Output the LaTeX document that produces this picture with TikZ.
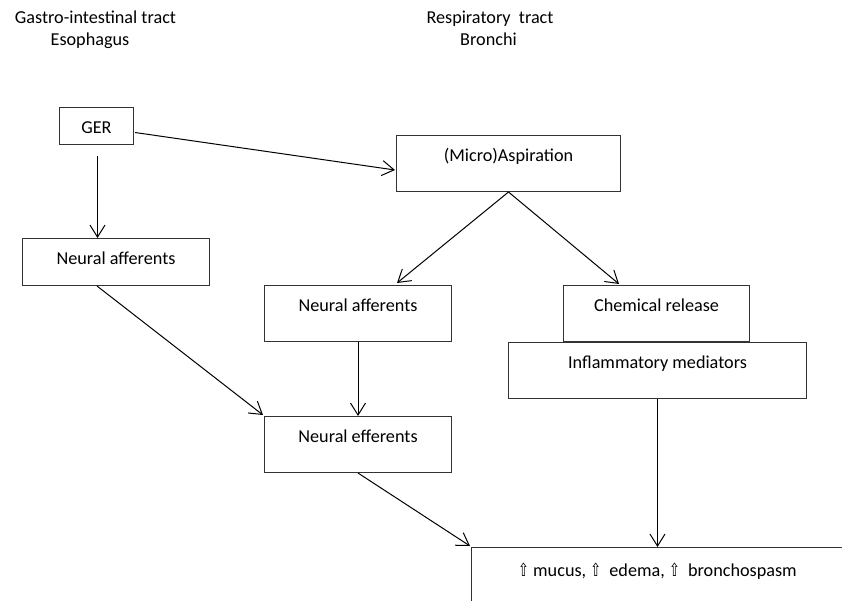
\documentclass[tikz,border=0pt]{standalone}
\usepackage{fontspec}
\setmainfont{Carlito}
\newfontfamily\arrowfont{DejaVu Sans}
\usetikzlibrary{arrows.meta,calc}
% narrow hollow up-arrow used in the outcome box
\newcommand{\upmark}{\scalebox{0.72}[1]{\arrowfont\fontsize{18}{20}\selectfont ⇧}}
\begin{document}
\begin{tikzpicture}[x=1pt,y=-1pt,
  every node/.style={font=\fontsize{18.2}{22}\selectfont},
  heading/.style={anchor=base, inner sep=0pt},
  flowbox/.style={draw=black!80, line width=1pt, anchor=north west,
    inner sep=0pt, text height=26pt},
  arr/.style={line width=1pt, line join=round,
    -{Straight Barb[length=12pt,width=15pt]}}]
\useasboundingbox (0,0) rectangle (842,600);
\clip (0,0) rectangle (842,600);

% column headings
\node[heading] (giHead)   at (95.5,23.3) {Gastro-intestinal tract};
\node[heading] (esoHead)  at (90,45.7)   {Esophagus};
\node[heading] (respHead) at (490,23.3)  {Respiratory\ \ tract};
\node[heading] (bronHead) at (488.5,45.7){Bronchi};

% boxes
\node[flowbox, minimum width=74pt,  text depth=11pt] (ger)  at (59,107)  {GER};
\node[flowbox, minimum width=224pt, text depth=30pt] (asp)  at (396,135) {(Micro)Aspiration};
\node[flowbox, minimum width=187pt, text depth=21pt] (naL)  at (22,238)  {Neural afferents};
\node[flowbox, minimum width=187pt, text depth=30pt] (naM)  at (264,285) {Neural afferents};
\node[flowbox, minimum width=186pt, text depth=30pt] (chem) at (563,285) {Chemical release};
\node[flowbox, minimum width=298pt, text depth=30pt] (infl) at (508,342) {Inflammatory mediators};
\node[flowbox, minimum width=187pt, text depth=30pt] (ne)   at (264,416) {Neural efferents};
\node[flowbox, minimum width=372pt, text height=29pt, text depth=80pt] (out) at (471,547)
  {\upmark\ mucus, \upmark\ \ edema, \upmark\ \ bronchospasm};

% connectors
\coordinate (gerDrop) at ($(ger.south)+(1,11)$);
\draw[arr] (gerDrop) -- (gerDrop |- naL.north);
\draw[arr] ($(ger.east)+(1,6.5)$) -- ($(asp.west)+(-1,6.5)$);
\draw[arr] (asp.south) -- ($(naM.north west)+(133,-2)$);
\draw[arr] (asp.south) -- ($(chem.north west)+(56,-1)$);
\draw[arr] ($(naL.south west)+(75,0)$) -- ($(ne.north west)+(-1,-1)$);
\draw[arr] (naM.south) -- (ne.north);
\draw[arr] (ne.south) -- ($(out.north west)+(-1,-1)$);
\draw[arr] (infl.south) -- (infl.south |- out.north);
\end{tikzpicture}
\end{document}
